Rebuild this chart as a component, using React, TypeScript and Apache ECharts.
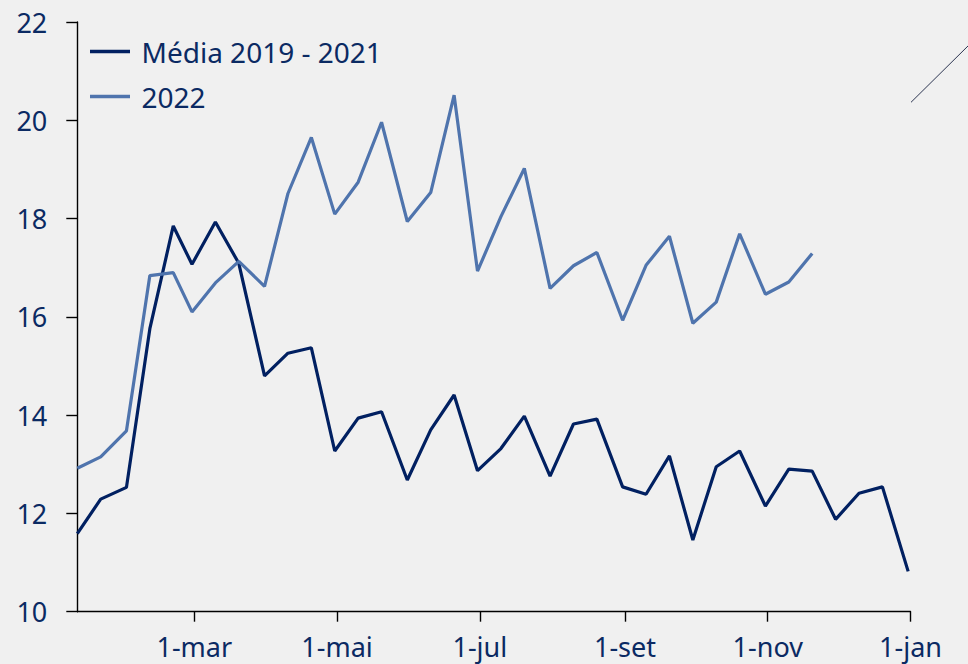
import React, { useEffect, useRef } from "react";
import * as echarts from "echarts";

const dates: string[] = [
  "2022-01-10", "2022-01-20", "2022-01-31",
  "2022-02-10", "2022-02-20", "2022-02-28",
  "2022-03-10", "2022-03-20", "2022-03-31",
  "2022-04-10", "2022-04-20", "2022-04-30",
  "2022-05-10", "2022-05-20", "2022-05-31",
  "2022-06-10", "2022-06-20", "2022-06-30",
  "2022-07-10", "2022-07-20", "2022-07-31",
  "2022-08-10", "2022-08-20", "2022-08-31",
  "2022-09-10", "2022-09-20", "2022-09-30",
  "2022-10-10", "2022-10-20", "2022-10-31",
  "2022-11-10", "2022-11-20", "2022-11-30",
  "2022-12-10", "2022-12-20", "2022-12-31",
];

const media2019_2021: number[] = [
  11.59, 12.29, 12.53, 15.76, 17.85, 17.07, 17.93, 17.09, 14.8, 15.26, 15.37, 13.27,
  13.94, 14.07, 12.68, 13.7, 14.41, 12.87, 13.32, 13.98, 12.76, 13.82, 13.92, 12.54,
  12.39, 13.17, 11.46, 12.95, 13.27, 12.15, 12.9, 12.86, 11.88, 12.41, 12.54, 10.82,
];

const serie2022: number[] = [
  12.92, 13.15, 13.68, 16.84, 16.9, 16.1, 16.69, 17.13, 16.62, 18.51, 19.65, 18.09,
  18.74, 19.96, 17.94, 18.53, 20.51, 16.93, 18.04, 19.02, 16.58, 17.04, 17.31, 15.93,
  17.05, 17.64, 15.87, 16.3, 17.69, 16.46, 16.71, 17.29,
];

const tickDates: string[] = ["2022-03-01", "2022-05-01", "2022-07-01", "2022-09-01", "2022-11-01", "2023-01-01"];
const monthNames: string[] = ["jan", "fev", "mar", "abr", "mai", "jun", "jul", "ago", "set", "out", "nov", "dez"];

const seriesNames: string[] = ["Média 2019 - 2021", "2022"];

function toTs(s: string): number {
  const [y, m, d] = s.split("-").map(Number);
  return new Date(y, m - 1, d).getTime();
}

const NAVY = "#0b2a63";
const DARK = "#012061";
const LIGHT = "#4f74ad";
const FONT = "'Noto Sans', sans-serif";

export default function App() {
  const ref = useRef<HTMLDivElement>(null);

  useEffect(() => {
    document.body.style.margin = "0";
    if (!ref.current) return;
    const chart = echarts.init(ref.current, undefined, { renderer: "svg" });
    const tickVals = tickDates.map(toTs);
    chart.setOption({
      animation: false,
      backgroundColor: "#f0f0f0",
      textStyle: { fontFamily: FONT },
      grid: { left: 77.3, right: 57.5, top: 22, bottom: 52.3, containLabel: false },
      legend: {
        show: true,
        orient: "vertical",
        left: 90,
        top: 36.5,
        padding: 0,
        icon: "rect",
        itemWidth: 40,
        itemHeight: 3.5,
        itemGap: 15,
        data: seriesNames,
        textStyle: { color: NAVY, fontSize: 28, fontFamily: FONT, lineHeight: 30, padding: [0, 0, 0, 6.5] },
      },
      xAxis: {
        type: "value",
        min: toTs(dates[0]),
        max: toTs(tickDates[tickDates.length - 1]),
        splitLine: { show: false },
        axisLine: { show: true, lineStyle: { color: "#000", width: 1.4 } },
        axisTick: { show: true, length: 10, customValues: tickVals, lineStyle: { color: "#000", width: 1.4 } },
        axisLabel: {
          show: true,
          customValues: tickVals,
          margin: 21,
          color: NAVY,
          fontSize: 27,
          lineHeight: 27,
          fontFamily: FONT,
          showMinLabel: true,
          showMaxLabel: true,
          formatter: (v: number) => {
            const d = new Date(v);
            return d.getDate() + "-" + monthNames[d.getMonth()];
          },
        },
      },
      yAxis: {
        type: "value",
        min: 10,
        max: 22,
        interval: 2,
        splitLine: { show: false },
        axisLine: { show: true, lineStyle: { color: "#000", width: 1.4 } },
        axisTick: { show: true, length: 11, lineStyle: { color: "#000", width: 1.4 } },
        axisLabel: { margin: 30, color: NAVY, fontSize: 27, fontFamily: FONT },
      },
      series: [
        {
          name: seriesNames[0],
          type: "line",
          showSymbol: false,
          symbol: "none",
          lineStyle: { color: DARK, width: 3.2 },
          itemStyle: { color: DARK },
          data: dates.map((d, i) => [toTs(d), media2019_2021[i]]),
        },
        {
          name: seriesNames[1],
          type: "line",
          showSymbol: false,
          symbol: "none",
          lineStyle: { color: LIGHT, width: 3.2 },
          itemStyle: { color: LIGHT },
          data: serie2022.map((v, i) => [toTs(dates[i]), v]),
        },
      ],
      graphic: [
        {
          type: "line",
          shape: { x1: 911, y1: 102.3, x2: 970, y2: 44 },
          style: { stroke: "#2b3450", lineWidth: 1 },
          silent: true,
        },
      ],
    });
    return () => chart.dispose();
  }, []);

  return (
    <div
      ref={ref}
      style={{ position: "fixed", left: 0, top: 0, width: 968, height: 664, background: "#f0f0f0" }}
    />
  );
}
